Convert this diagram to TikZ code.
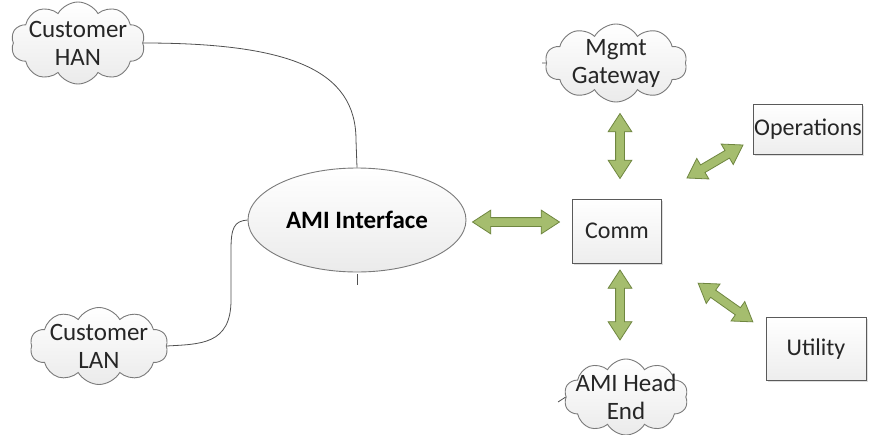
\documentclass[tikz,border=0pt]{standalone}
\usepackage{fontspec}
\setmainfont{Carlito}
\usetikzlibrary{shapes.symbols,shapes.arrows,shapes.geometric,shadows}
\definecolor{arrfill}{HTML}{A5BD6E}
\definecolor{arrline}{HTML}{6F8640}
\definecolor{lineg}{HTML}{505050}
\definecolor{cloudline}{HTML}{7A7A7A}
\definecolor{boxline}{HTML}{5A5A5A}
\tikzset{
  cloudnode/.style={cloud, cloud puffs=10, cloud puff arc=120, cloud ignores aspect, draw=cloudline, line width=0.9pt,
    top color=white, bottom color=gray!16, inner sep=0pt},
  cloudtext/.style={align=center, inner sep=0pt, font=\fontsize{25}{28}\selectfont, text=black!85},
  boxnode/.style={rectangle, draw=boxline, line width=0.9pt, top color=white, bottom color=gray!14,
    inner sep=0pt, font=\fontsize{24}{28}\selectfont, text=black!85,
    drop shadow={shadow xshift=1.5pt, shadow yshift=-1.5pt, opacity=0.25}},
  ellnode/.style={ellipse, draw=cloudline, line width=0.9pt, top color=white, bottom color=gray!16,
    inner sep=0pt, font=\bfseries\fontsize{25}{28}\selectfont},
  blockarrow/.style={double arrow, double arrow head extend=7.5pt, double arrow tip angle=66,
    inner xsep=0pt, inner ysep=4pt, fill=arrfill, draw=arrline, line width=0.8pt},
  conn/.style={draw=lineg, line width=0.8pt},
}
\begin{document}
\begin{tikzpicture}[x=1pt,y=-1pt]
\useasboundingbox (0,0) rectangle (873,434);
\fill[white] (0,0) rectangle (873,434);

\node[cloudnode, minimum width=134pt, minimum height=82pt,
  label={[cloudtext]center:Customer\\HAN}] (han) at (78,43) {};
\node[cloudnode, minimum width=138pt, minimum height=77pt,
  label={[cloudtext]center:Customer\\LAN}] (lan) at (99,346) {};
\node[cloudnode, minimum width=142pt, minimum height=78pt,
  label={[cloudtext]center:Mgmt\\Gateway}] (mgmt) at (616,63) {};
\node[cloudnode, minimum width=124pt, minimum height=76pt,
  label={[cloudtext]center:AMI Head\\End}] (head) at (626,397) {};

\node[ellnode, minimum width=218pt, minimum height=104pt] (ami) at (357,220) {AMI Interface};

\node[boxnode, minimum width=89pt, minimum height=64pt] (comm) at (617,231) {Comm};
\node[boxnode, minimum width=109pt, minimum height=50pt] (ops) at (808,129) {Operations};
\node[boxnode, minimum width=100pt, minimum height=63pt] (util) at (816,349) {Utility};

% block arrows
\node[blockarrow, minimum height=87pt] (a1) at (516,222) {};
\node[blockarrow, minimum height=65pt, rotate=90] (a2) at (620,146) {};
\node[blockarrow, minimum height=70pt, rotate=90] (a3) at (620,305) {};
\node[blockarrow, minimum height=65pt, rotate=30.5] (a4) at (715,161.5) {};
\node[blockarrow, minimum height=67pt, rotate=-35.3] (a5) at (725.5,302.5) {};

% connectors
\draw[conn] (han.east) .. controls (290,43) and (356,70) .. (356,140) -- (ami.north);
\draw[conn] (ami.west) .. controls (234,221) and (231,228) .. (231,250) -- (231,300)
  .. controls (231,345) and (200,344) .. (lan.east);

\coordinate (t1a) at (357,274);
\coordinate (t1b) at (357,285);
\draw[conn] (t1a) -- (t1b);
\coordinate (t2a) at (542,63);
\coordinate (t2b) at (mgmt.west);
\draw[conn] (t2a) -- (t2b);
\coordinate (t3a) at (558,402);
\coordinate (t3b) at (head.west);
\draw[conn] (t3a) -- (t3b);
\end{tikzpicture}
\end{document}
